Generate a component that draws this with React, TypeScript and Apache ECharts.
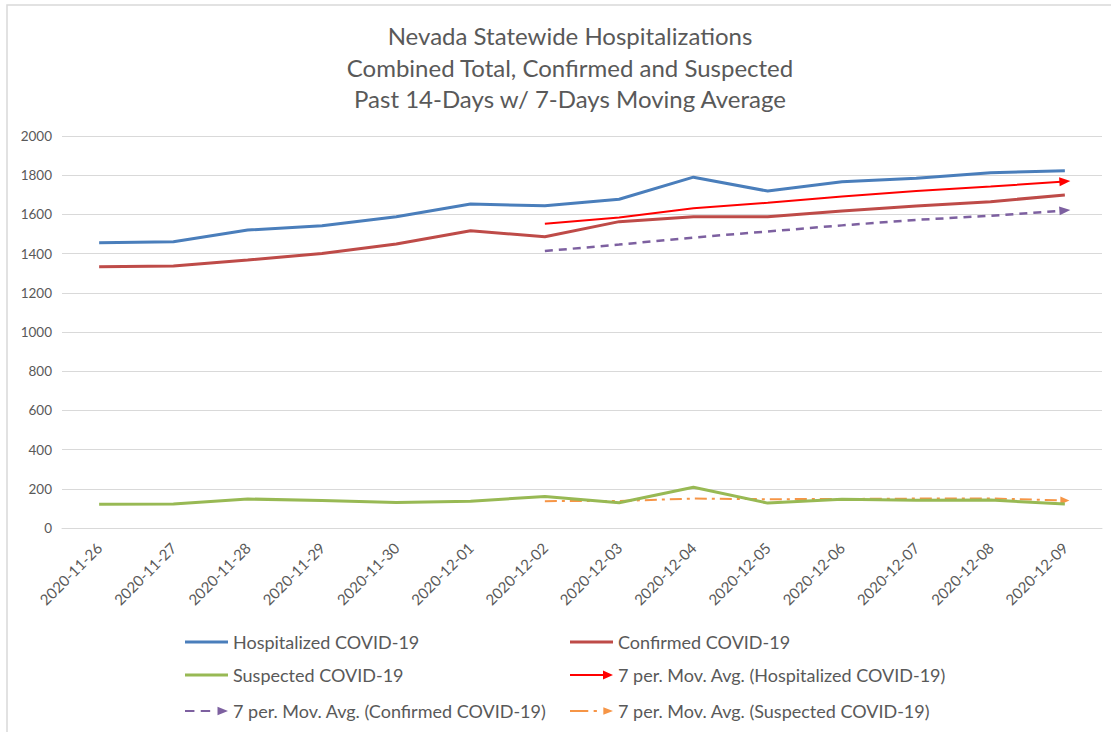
import React, { useEffect, useRef } from "react";
import * as echarts from "echarts";

const titleLines = [
  "Nevada Statewide Hospitalizations",
  "Combined Total, Confirmed and Suspected",
  "Past 14-Days w/ 7-Days Moving Average",
];

const dates = [
  "2020-11-26", "2020-11-27", "2020-11-28", "2020-11-29", "2020-11-30",
  "2020-12-01", "2020-12-02", "2020-12-03", "2020-12-04", "2020-12-05",
  "2020-12-06", "2020-12-07", "2020-12-08", "2020-12-09",
];

const hospitalized = [1455, 1461, 1520, 1542, 1588, 1653, 1644, 1677, 1790, 1719, 1767, 1784, 1813, 1823];
const confirmed = [1333, 1337, 1367, 1401, 1449, 1517, 1486, 1563, 1588, 1588, 1617, 1643, 1665, 1699];
const suspected = [121, 122, 148, 140, 130, 137, 161, 129, 208, 127, 147, 141, 143, 122];

const maHospitalized = [null, null, null, null, null, null, 1552, 1584, 1631, 1659, 1691, 1719, 1742, 1768];
const maConfirmed = [null, null, null, null, null, null, 1413, 1446, 1482, 1513, 1544, 1572, 1593, 1620];
const maSuspected = [null, null, null, null, null, null, 137, 138, 150, 147, 148, 150, 151, 140];

const yTicks = { min: 0, max: 2000, interval: 200 };

const names = {
  hosp: "Hospitalized COVID-19",
  conf: "Confirmed COVID-19",
  susp: "Suspected COVID-19",
  maHosp: "7 per. Mov. Avg. (Hospitalized COVID-19)",
  maConf: "7 per. Mov. Avg. (Confirmed COVID-19)",
  maSusp: "7 per. Mov. Avg. (Suspected COVID-19)",
};

const colors = {
  hosp: "#4A7EBB",
  conf: "#BE4B48",
  susp: "#98B954",
  maHosp: "#FF0000",
  maConf: "#7D60A0",
  maSusp: "#F69546",
};

const FONT = "Lato, 'Open Sans', sans-serif";
const TEXT = "#595959";

function withArrow(values: (number | null)[], size: number[], rotate: number) {
  return values.map((v, i) =>
    i === values.length - 1
      ? { value: v, symbol: "triangle", symbolSize: size, symbolRotate: rotate }
      : v
  );
}

const iconSolid = "path://M0,0 L43,0 L43,3 L0,3 Z";
const iconArrow = "path://M0,4 L34,4 L34,6 L0,6 Z M33,0.5 L43,5 L33,9.5 Z";
const iconDashArrow = "path://M0,4 L9,4 L9,6 L0,6 Z M15,4 L24,4 L24,6 L15,6 Z M31,1 L41,5 L31,9 Z";
const iconDashDotArrow = "path://M0,4 L17,4 L17,6 L0,6 Z M22,4 L25,4 L25,6 L22,6 Z M31,1.5 L40,5 L31,8.5 Z";

function legendAt(name: string, color: string, icon: string, left: number, top: number, h: number) {
  return {
    show: true,
    left,
    top,
    padding: 0,
    itemWidth: 43,
    itemHeight: h,
    selectedMode: false,
    textStyle: { color: TEXT, fontFamily: FONT, fontSize: 18 },
    data: [{ name, icon, itemStyle: { color, borderWidth: 0 } }],
  };
}

export default function App() {
  const ref = useRef<HTMLDivElement>(null);

  useEffect(() => {
    if (!ref.current) return;
    const chart = echarts.init(ref.current, null, { renderer: "svg" });
    chart.setOption({
      animation: false,
      backgroundColor: "#ffffff",
      title: {
        text: titleLines.join("\n"),
        left: 565,
        textAlign: "center",
        top: 15,
        textStyle: {
          color: TEXT,
          fontFamily: FONT,
          fontWeight: "normal",
          fontSize: 24,
          lineHeight: 31.5,
        },
      },
      graphic: [
        {
          type: "rect",
          shape: { x: 7, y: 5, width: 1115, height: 740 },
          style: { fill: "none", stroke: "#D9D9D9", lineWidth: 1.5 },
          silent: true,
        },
      ],
      legend: [
        legendAt(names.hosp, colors.hosp, iconSolid, 185, 633, 3),
        legendAt(names.conf, colors.conf, iconSolid, 570, 633, 3),
        legendAt(names.susp, colors.susp, iconSolid, 185, 666, 3),
        legendAt(names.maHosp, colors.maHosp, iconArrow, 570, 666, 10),
        legendAt(names.maConf, colors.maConf, iconDashArrow, 185, 702, 10),
        legendAt(names.maSusp, colors.maSusp, iconDashDotArrow, 570, 702, 10),
      ],
      grid: { left: 62, right: 9, top: 136, bottom: 204, containLabel: false },
      xAxis: {
        type: "category",
        data: dates,
        boundaryGap: true,
        axisLine: { show: true, lineStyle: { color: "#D9D9D9", width: 1 } },
        axisTick: { show: false },
        axisLabel: {
          rotate: 45,
          margin: 17,
          color: TEXT,
          fontFamily: FONT,
          fontSize: 15,
          interval: 0,
        },
      },
      yAxis: {
        type: "value",
        min: yTicks.min,
        max: yTicks.max,
        interval: yTicks.interval,
        axisLine: { show: false },
        axisTick: { show: false },
        splitLine: { lineStyle: { color: "#D9D9D9", width: 1 } },
        axisLabel: {
          color: TEXT,
          fontFamily: FONT,
          fontSize: 13.5,
          margin: 10,
          formatter: (v: number) => String(v),
        },
      },
      series: [
        {
          name: names.hosp,
          type: "line",
          data: hospitalized,
          symbol: "none",
          lineStyle: { color: colors.hosp, width: 3 },
          itemStyle: { color: colors.hosp },
          z: 3,
        },
        {
          name: names.conf,
          type: "line",
          data: confirmed,
          symbol: "none",
          lineStyle: { color: colors.conf, width: 3 },
          itemStyle: { color: colors.conf },
          z: 3,
        },
        {
          name: names.susp,
          type: "line",
          data: suspected,
          symbol: "none",
          lineStyle: { color: colors.susp, width: 3 },
          itemStyle: { color: colors.susp },
          z: 3,
        },
        {
          name: names.maHosp,
          type: "line",
          data: withArrow(maHospitalized, [9, 11], -86),
          symbol: "none",
          showSymbol: true,
          lineStyle: { color: colors.maHosp, width: 2 },
          itemStyle: { color: colors.maHosp },
          z: 4,
        },
        {
          name: names.maConf,
          type: "line",
          data: withArrow(maConfirmed, [9, 11], -86),
          symbol: "none",
          showSymbol: true,
          lineStyle: { color: colors.maConf, width: 2.5, type: [8, 6] },
          itemStyle: { color: colors.maConf },
          z: 4,
        },
        {
          name: names.maSusp,
          type: "line",
          data: withArrow(maSuspected, [8, 9], -90),
          symbol: "none",
          showSymbol: true,
          lineStyle: { color: colors.maSusp, width: 2, type: [12, 5, 3, 5] },
          itemStyle: { color: colors.maSusp },
          z: 2,
        },
      ],
    });
    return () => chart.dispose();
  }, []);

  return (
    <div
      ref={ref}
      style={{ position: "absolute", left: 0, top: 0, width: 1111, height: 732 }}
    />
  );
}
